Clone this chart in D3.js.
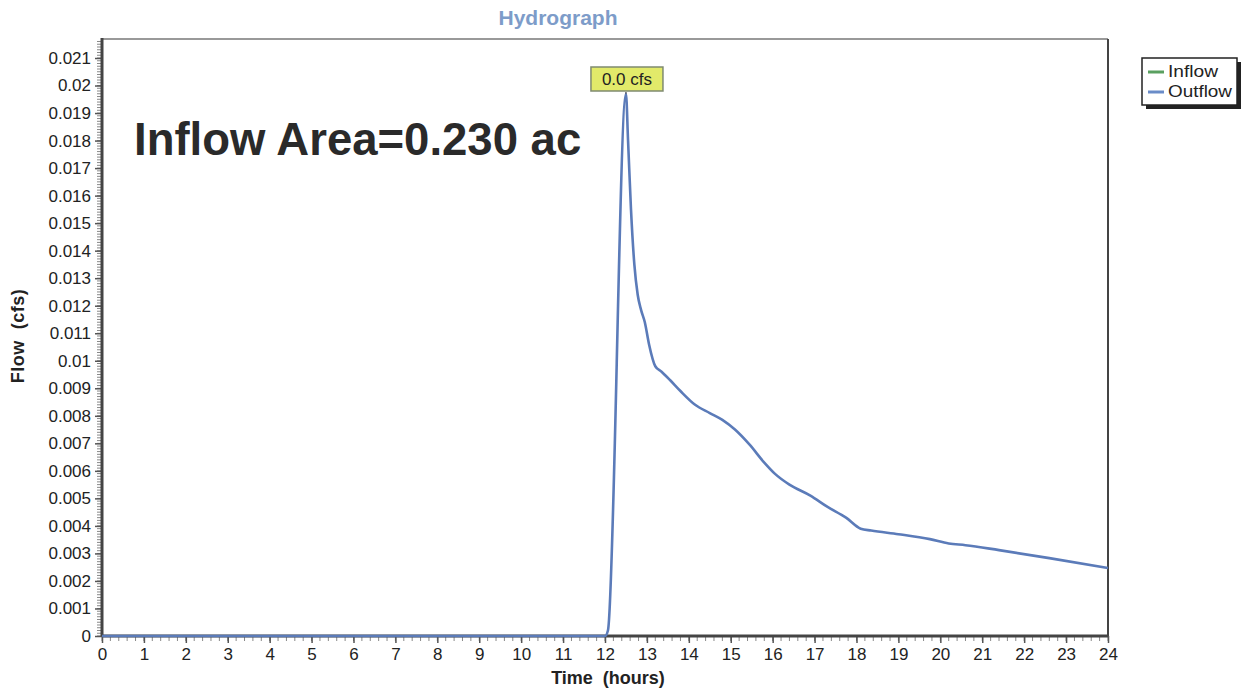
<!DOCTYPE html>
<html><head><meta charset="utf-8">
<script src="https://cdn.jsdelivr.net/npm/d3@7"></script>
<style>body{margin:0;background:#fff}svg{display:block}text{font-family:"Liberation Sans",Arial,sans-serif}</style>
</head><body>
<svg id="c" width="1243" height="690"></svg>
<script>
const hours = [0,12.0,12.07,12.5,12.55,12.62,12.7,12.78,12.86,12.95,13.05,13.2,13.35,13.55,13.8,14.15,14.5,14.8,15.1,15.45,15.8,16.05,16.4,16.9,17.3,17.75,18.1,18.35,19.0,19.75,20.2,20.6,21.4,22.6,24];
const outflow = [0,0,0.0002,0.0197,0.0180,0.0155,0.0135,0.0124,0.01185,0.0114,0.0106,0.0098,0.0096,0.0093,0.0089,0.0084,0.0081,0.00785,0.0075,0.00695,0.0063,0.0059,0.0055,0.0051,0.0047,0.0043,0.0039,0.00383,0.0037,0.00352,0.00336,0.0033,0.00312,0.00283,0.00247];
const xTicks = d3.range(0,25,1);
const yTicks = d3.range(0,22,1).map(i=>+(i*0.001).toFixed(3));
const legendItems = ["Inflow","Outflow"];
const legendColors = ["#5aa060","#6a8cc8"];
const peakLabel = "0.0 cfs";
const areaText = "Inflow Area=0.230 ac";

const svg = d3.select("#c");
const L=102, R=1108, T=39, B=636;
const x = d3.scaleLinear().domain([0,24]).range([L,R]);
const y = d3.scaleLinear().domain([0,0.021]).range([B,58]);

// frame top/right
svg.append("line").attr("x1",L).attr("x2",R).attr("y1",T).attr("y2",T).attr("stroke","#777").attr("stroke-width",1.5);
svg.append("line").attr("x1",R).attr("x2",R).attr("y1",T).attr("y2",B).attr("stroke","#444").attr("stroke-width",2);

// minor ticks
const yMinor = d3.range(0,218).map(i=>i*0.0001).filter(v=>y(v)>=T);
svg.append("g").selectAll("line").data(yMinor).join("line")
 .attr("x1",L-5).attr("x2",L).attr("y1",d=>y(d)).attr("y2",d=>y(d)).attr("stroke","#888").attr("stroke-width",1);
const xMinor = d3.range(0,121).map(i=>i*0.2);
svg.append("g").selectAll("line").data(xMinor).join("line")
 .attr("x1",d=>x(d)).attr("x2",d=>x(d)).attr("y1",B).attr("y2",B+5).attr("stroke","#888").attr("stroke-width",1);

// axes
const ya = svg.append("g").attr("transform",`translate(${L},0)`).call(d3.axisLeft(y).tickValues(yTicks).tickFormat(d=>d===0?"0":d3.format("")(d)).tickSize(7).tickPadding(4));
ya.select(".domain").remove();
ya.selectAll(".tick line").attr("stroke","#555").attr("stroke-width",1.5);
ya.selectAll("text").attr("font-size",17).attr("fill","#222").style("font-family","Liberation Sans, Arial");
const xa = svg.append("g").attr("transform",`translate(0,${B})`).call(d3.axisBottom(x).tickValues(xTicks).tickFormat(d3.format("d")).tickSize(7).tickPadding(5));
xa.select(".domain").remove();
xa.selectAll(".tick line").attr("stroke","#555").attr("stroke-width",1.5);
xa.selectAll("text").attr("font-size",17).attr("fill","#222").style("font-family","Liberation Sans, Arial");

svg.append("line").attr("x1",L).attr("x2",L).attr("y1",T-1).attr("y2",B).attr("stroke","#444").attr("stroke-width",3);
svg.append("line").attr("x1",L).attr("x2",R).attr("y1",B).attr("y2",B).attr("stroke","#444").attr("stroke-width",3);

// line
const data = hours.map((h,i)=>[h,outflow[i]]);
svg.append("path").datum(data).attr("fill","none").attr("stroke","#5b7bb9").attr("stroke-width",2.6).attr("stroke-linejoin","round")
 .attr("d",d3.line().x(d=>x(d[0])).y(d=>y(d[1])).curve(d3.curveMonotoneX));

// peak label
const pi = outflow.indexOf(d3.max(outflow));
const px = x(hours[pi]), py = y(outflow[pi]);
svg.append("line").attr("x1",px).attr("x2",px).attr("y1",py).attr("y2",92).attr("stroke","#444").attr("stroke-width",1.2);
svg.append("rect").attr("x",px-35).attr("y",67).attr("width",72).attr("height",24).attr("fill","#e2ea6a").attr("stroke","#7f8a70").attr("stroke-width",1.5);
svg.append("text").attr("x",px+1).attr("y",85).attr("text-anchor","middle").attr("font-size",17).attr("fill","#222").text(peakLabel);

// annotation
svg.append("text").attr("x",134).attr("y",155).attr("font-size",45.5).attr("font-weight","bold").attr("fill","#2a2a2a").text(areaText);

// titles
svg.append("text").attr("x",558).attr("y",25).attr("text-anchor","middle").attr("font-size",21).attr("font-weight","bold").attr("fill","#7d9cc9").text("Hydrograph");
svg.append("text").attr("x",608).attr("y",684).attr("text-anchor","middle").attr("font-size",18).attr("font-weight","bold").attr("fill","#222").attr("xml:space","preserve").text("Time  (hours)");
svg.append("text").attr("transform","translate(24,336) rotate(-90)").attr("text-anchor","middle").attr("font-size",18).attr("font-weight","bold").attr("letter-spacing",0.5).attr("fill","#222").attr("xml:space","preserve").text("Flow  (cfs)");

// legend
const lg = svg.append("g").attr("transform","translate(1142,58)");
lg.append("rect").attr("x",4).attr("y",4).attr("width",95).attr("height",47).attr("fill","#222");
lg.append("rect").attr("x",0).attr("y",0).attr("width",95).attr("height",47).attr("fill","#fff").attr("stroke","#222").attr("stroke-width",1.5);
const legendLens = [50,64];
legendItems.forEach((n,i)=>{
  lg.append("line").attr("x1",6).attr("x2",22).attr("y1",14+i*20).attr("y2",14+i*20).attr("stroke",legendColors[i]).attr("stroke-width",3);
  lg.append("text").attr("x",26).attr("y",19+i*20).attr("font-size",16).attr("fill","#222")
    .attr("textLength",legendLens[i]).attr("lengthAdjust","spacingAndGlyphs").text(n);
});
</script>
</body></html>
